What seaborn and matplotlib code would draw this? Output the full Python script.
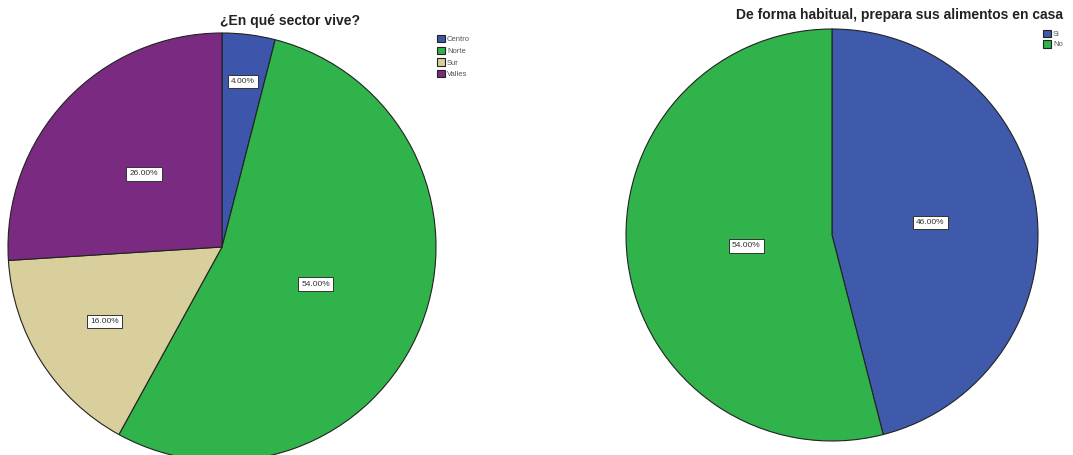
import matplotlib
matplotlib.use("Agg")
import matplotlib.pyplot as plt
import seaborn as sns
import numpy as np

# Sector de residencia
sector_labels = ["Centro", "Norte", "Sur", "Valles"]
sector_values = [4.0, 54.0, 16.0, 26.0]
sector_colors = ["#3d56ab", "#2fb34a", "#d8cf9c", "#7a2a80"]
sector_label_radius = [0.78, 0.47, 0.65, 0.50]

# Preparación de alimentos en casa
cocina_labels = ["Si", "No"]
cocina_values = [46.0, 54.0]
cocina_colors = ["#3f59ab", "#2fb34a"]
cocina_label_radius = [0.48, 0.42]

sns.set_theme(style="white")
plt.rcParams["font.family"] = ["Liberation Sans", "DejaVu Sans"]

fig = plt.figure(figsize=(10.73, 4.55), dpi=100)
fig.patch.set_facecolor("white")


def draw_pie(ax, values, colors, radii):
    wedges, _ = ax.pie(values, colors=colors, startangle=90, counterclock=False,
                       radius=1.0, wedgeprops=dict(edgecolor="#222222", linewidth=0.8))
    for w, v, r in zip(wedges, values, radii):
        mid = np.deg2rad((w.theta1 + w.theta2) / 2.0)
        ax.text(r * np.cos(mid), r * np.sin(mid), f"{v:.2f}%", fontsize=6,
                ha="center", va="center", color="#333333",
                bbox=dict(boxstyle="square,pad=0.4", facecolor="white",
                          edgecolor="#333333", linewidth=0.7))
    ax.set_xlim(-1.0, 1.0)
    ax.set_ylim(-1.0, 1.0)
    ax.set_aspect("equal")
    ax.axis("off")
    return wedges


legend_kw = dict(frameon=False, fontsize=5.5, handlelength=1.0, handleheight=1.1,
                 handletextpad=0.3, borderaxespad=0, borderpad=0, labelcolor="#555555")

ax1 = fig.add_axes([8 / 1073, (455 - 461) / 455, 428 / 1073, 428 / 455])
w1 = draw_pie(ax1, sector_values, sector_colors, sector_label_radius)
fig.legend(w1, sector_labels, loc="upper left", bbox_to_anchor=(437 / 1073, 1 - 35 / 455),
           labelspacing=0.45, **legend_kw)

ax2 = fig.add_axes([626 / 1073, (455 - 441) / 455, 412 / 1073, 412 / 455])
w2 = draw_pie(ax2, cocina_values, cocina_colors, cocina_label_radius)
fig.legend(w2, cocina_labels, loc="upper left", bbox_to_anchor=(1043 / 1073, 1 - 30 / 455),
           labelspacing=0.25, **legend_kw)

fig.text(290 / 1073, 1 - 21 / 455, "¿En qué sector vive?", ha="center", va="center",
         fontsize=10, fontweight="bold", color="#222222")
fig.text(900 / 1073, 1 - 15 / 455, "De forma habitual, prepara sus alimentos en casa",
         ha="center", va="center", fontsize=10, fontweight="bold", color="#222222")

fig.savefig("out.png", dpi=100, facecolor="white")
